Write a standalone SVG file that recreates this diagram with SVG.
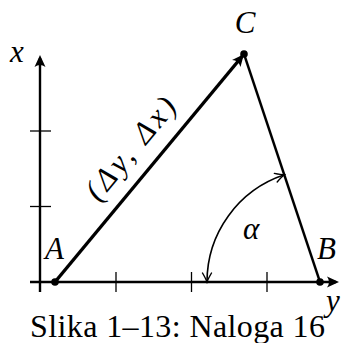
<svg xmlns="http://www.w3.org/2000/svg" width="342" height="343" viewBox="0 0 342 343">
<style>
.lbl{font-style:italic;font-size:31px;fill:#000}
.cap{font-size:32px;fill:#000}
.axis{stroke:#000;stroke-width:2.4;fill:none}
.tick{stroke:#000;stroke-width:1.3;fill:none}
.edge{stroke:#000;fill:none}
</style>
<defs>
<marker id="ah" viewBox="-13 -7 16 14" refX="-3" refY="0" markerWidth="16" markerHeight="14" markerUnits="userSpaceOnUse" orient="auto">
<path d="M0,0 L-12,-5.5 Q-8,0 -12,5.5 Z" fill="#000"/>
</marker>
<marker id="ahs" viewBox="-11 -6 13 12" refX="0" refY="0" markerWidth="13" markerHeight="12" markerUnits="userSpaceOnUse" orient="auto-start-reverse">
<path d="M-9,-4.5 Q-3,-1 0,0 Q-3,1 -9,4.5" fill="none" stroke="#000" stroke-width="1.4" stroke-linecap="round"/>
</marker>
</defs>
<g id="axes">
<line class="axis" x1="40" y1="292" x2="40" y2="58" marker-end="url(#ah)"/>
<line class="axis" x1="30" y1="282" x2="336" y2="282" marker-end="url(#ah)"/>
<line class="tick" x1="30" y1="131" x2="51" y2="131"/>
<line class="tick" x1="30" y1="206.5" x2="51" y2="206.5"/>
<line class="tick" x1="116" y1="272" x2="116" y2="292"/>
<line class="tick" x1="191.5" y1="272" x2="191.5" y2="292"/>
<line class="tick" x1="267" y1="272" x2="267" y2="292"/>
</g>
<g id="connectors">
<line class="edge" stroke-width="3.4" x1="55" y1="282" x2="242" y2="56.5" marker-end="url(#ah)"/>
<line class="edge" stroke-width="2.4" x1="244" y1="54" x2="320" y2="282"/>
<path class="edge" stroke-width="1.6" d="M284.3,174.8 A113,113 0 0 0 207,282" marker-start="url(#ahs)" marker-end="url(#ahs)"/>
</g>
<g font-family="Liberation Serif, serif">
<g id="A"><circle cx="55" cy="282" r="3.8"/><text class="lbl" x="45" y="259">A</text></g>
<g id="B"><circle cx="320" cy="282" r="3.8"/><text class="lbl" x="317" y="259">B</text></g>
<g id="C"><circle cx="244" cy="54" r="3.8"/><text class="lbl" x="245" y="32.5" text-anchor="middle">C</text></g>
<g id="labels">
<text class="lbl" x="10" y="62">x</text>
<text class="lbl" x="326" y="311">y</text>
<text class="lbl" x="243" y="239">α</text>
<text class="lbl" font-style="normal" x="0" y="0" text-anchor="middle" textLength="124" transform="translate(138.2,155.1) rotate(-50.34)">(Δ<tspan font-style="italic">y</tspan>, Δ<tspan font-style="italic">x</tspan>)</text>
<text class="cap" x="30" y="337" textLength="295">Slika 1–13: Naloga 16</text>
</g>
</g>
</svg>
